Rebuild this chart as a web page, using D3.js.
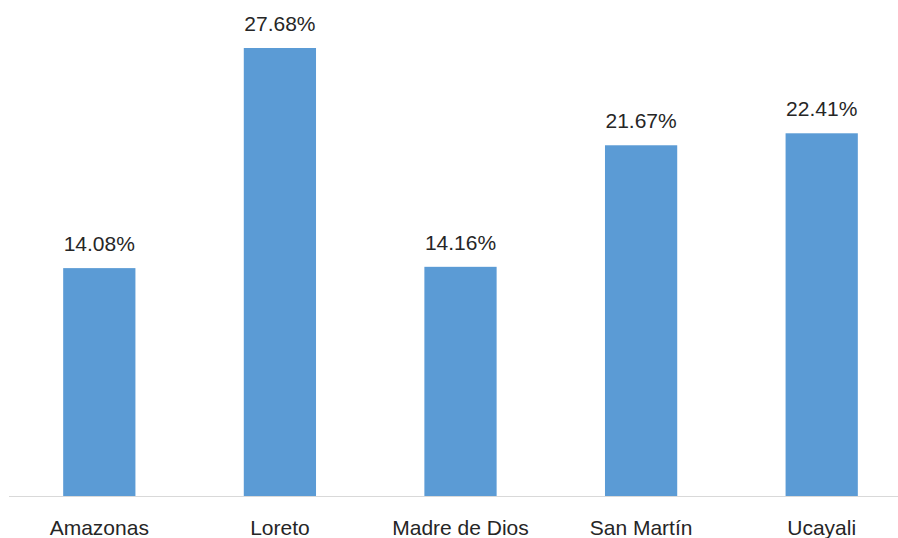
<!DOCTYPE html>
<html>
<head>
<meta charset="utf-8">
<script src="https://cdn.jsdelivr.net/npm/d3@7"></script>
<style>
  body { margin: 0; background: #fff; }
  text { font-family: "Liberation Sans", Arial, sans-serif; fill: #262626; }
</style>
</head>
<body>
<div id="chart"></div>
<script>
// categories and values
var regions = ["Amazonas", "Loreto", "Madre de Dios", "San Martín", "Ucayali"];
var shares = [14.08, 27.68, 14.16, 21.67, 22.41];
var labels = ["14.08%", "27.68%", "14.16%", "21.67%", "22.41%"];

var data = regions.map(function(r, i) {
  return { region: r, value: shares[i], label: labels[i] };
});

var W = 898, H = 538;
var svg = d3.select("#chart")
  .append("svg")
    .attr("width", W)
    .attr("height", H);

// band scale runs a bit past the right edge, as in the cropped original
var x = d3.scaleBand()
  .domain(regions)
  .range([9, 912])
  .paddingInner(0.6)
  .paddingOuter(0.3);

var y = d3.scaleLinear()
  .domain([0, 27.68])
  .range([496, 48]);

// bars
svg.selectAll("rect.bar")
  .data(data)
  .enter()
  .append("rect")
    .attr("class", "bar")
    .attr("x", function(d) { return x(d.region); })
    .attr("width", x.bandwidth())
    .attr("y", function(d) { return y(d.value); })
    .attr("height", function(d) { return y(0) - y(d.value); })
    .attr("fill", "#5b9bd5");

// baseline
svg.append("line")
  .attr("x1", 9).attr("x2", W)
  .attr("y1", y(0) + 0.5).attr("y2", y(0) + 0.5)
  .attr("stroke", "#d9d9d9")
  .attr("stroke-width", 1);

// value labels
svg.selectAll("text.val")
  .data(data)
  .enter()
  .append("text")
    .attr("class", "val")
    .attr("x", function(d) { return x(d.region) + x.bandwidth() / 2; })
    .attr("y", function(d) { return y(d.value) - 17; })
    .attr("text-anchor", "middle")
    .style("font-size", "21px")
    .text(function(d) { return d.label; });

// category labels
svg.selectAll("text.cat")
  .data(data)
  .enter()
  .append("text")
    .attr("class", "cat")
    .attr("x", function(d) { return x(d.region) + x.bandwidth() / 2; })
    .attr("y", 535)
    .attr("text-anchor", "middle")
    .style("font-size", "21px")
    .text(function(d) { return d.region; });
</script>
</body>
</html>
